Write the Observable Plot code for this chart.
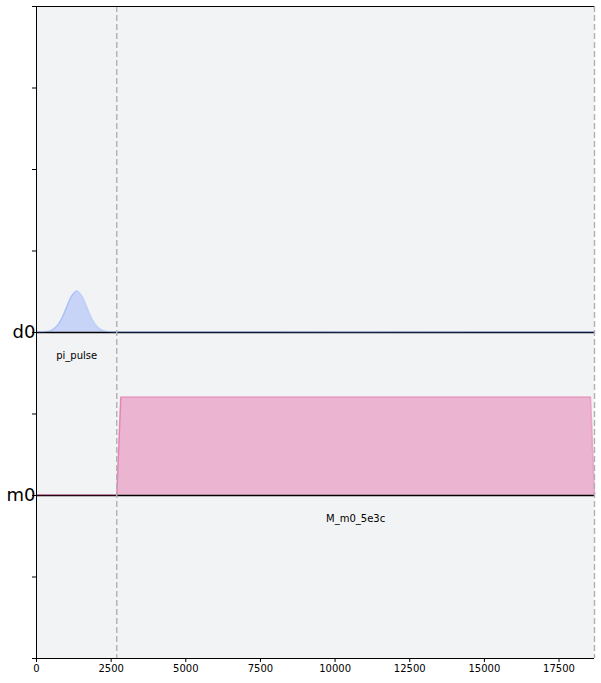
<!DOCTYPE html>
<html>
<head>
<meta charset="utf-8">
<script src="https://cdn.jsdelivr.net/npm/d3@7"></script>
<script src="https://cdn.jsdelivr.net/npm/@observablehq/plot@0.6"></script>
<style>
body { margin: 0; background: #fff; }
</style>
</head>
<body>
<div id="chart"></div>
<script>
// Channels and their baseline offsets
const channels = ["d0", "m0"];
const channelOffsets = [2, 0];
// Gaussian pi pulse on d0 (time in dt, amplitude)
const gaussT = [0, 336, 504, 672, 840, 1008, 1176, 1344, 1512, 1680, 1848, 2016, 2184, 2352, 2688];
const gaussA = [0, 0.004, 0.020, 0.066, 0.160, 0.302, 0.440, 0.500, 0.440, 0.302, 0.160, 0.066, 0.020, 0.004, 0];
// Measurement pulse on m0
const measT = [2688, 2822, 18554, 18688];
const measA = [0, 1.2, 1.2, 0];
// Barriers / end of schedule
const barriers = [2688, 18688];
const tEnd = 18688;
// Pulse labels
const pulseNames = ["pi_pulse", "M_m0_5e3c"];
const pulseLabelT = [1344, 10688];
// Axis ticks
const xTicks = [0, 2500, 5000, 7500, 10000, 12500, 15000, 17500];
const yTicks = [-2, -1, 0, 1, 2, 3, 4, 5, 6];

const gauss = gaussT.map((t, i) => ({t, a: gaussA[i], base: channelOffsets[0]}));
const meas = measT.map((t, i) => ({t, a: measA[i], base: channelOffsets[1]}));
const gaussLine = [...gauss, {t: tEnd, a: 0, base: channelOffsets[0]}];
const measLine = [{t: 0, a: 0, base: channelOffsets[1]}, ...meas];
const labels = pulseNames.map((n, i) => ({n, t: pulseLabelT[i], y: channelOffsets[i] - 0.28}));

const chart = Plot.plot({
  width: 601,
  height: 683,
  marginLeft: 36,
  marginRight: 7,
  marginTop: 6,
  marginBottom: 25,
  style: {fontFamily: "DejaVu Sans", background: "#fff", color: "#000"},
  x: {domain: [0, tEnd]},
  y: {domain: [-2, 6]},
  marks: [
    Plot.frame({fill: "#f2f3f4", stroke: null}),
    Plot.areaY(gauss, {x: "t", y1: "base", y2: d => d.base + d.a, fill: "#648fff", fillOpacity: 0.3, curve: "catmull-rom"}),
    Plot.areaY(meas, {x: "t", y1: "base", y2: d => d.base + d.a, fill: "#dc267f", fillOpacity: 0.3}),
    Plot.ruleY(channelOffsets, {stroke: "#000", strokeWidth: 1.3}),
    Plot.line(gaussLine, {x: "t", y: d => d.base + d.a, stroke: "#648fff", strokeOpacity: 0.35, strokeWidth: 1.5, curve: "catmull-rom", dy: -0.8}),
    Plot.line(measLine, {x: "t", y: d => d.base + d.a, stroke: "#dc267f", strokeOpacity: 0.35, strokeWidth: 1.5, dy: -0.8}),
    Plot.ruleX(barriers, {stroke: "#b0b0b0", strokeWidth: 1.4, strokeDasharray: "6,3"}),
    Plot.text(labels, {x: "t", y: "y", text: "n", fontSize: 10, fill: "#000"}),
    Plot.ruleX([0], {stroke: "#000", strokeWidth: 1}),
    Plot.ruleY([-2, 6], {stroke: "#000", strokeWidth: 1}),
    Plot.axisX({ticks: xTicks, tickFormat: d => String(d), tickSize: 4, tickPadding: 2, fontSize: 10, label: null}),
    Plot.axisY({ticks: yTicks, tickFormat: d => { const i = channelOffsets.indexOf(d); return i >= 0 ? channels[i] : ""; }, tickSize: 4, tickPadding: -3, fontSize: 18, label: null})
  ]
});
document.getElementById("chart").appendChild(chart);
</script>
</body>
</html>
